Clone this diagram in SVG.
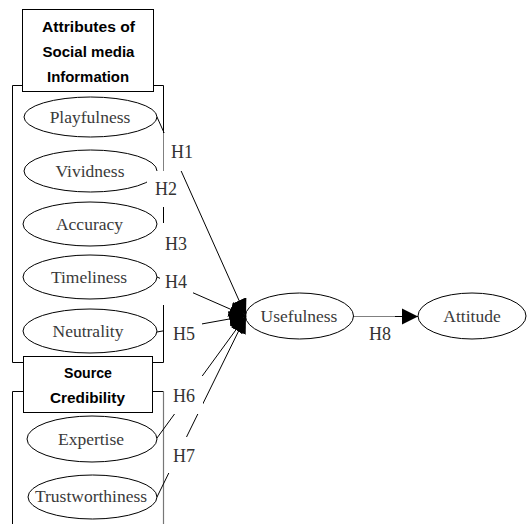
<svg xmlns="http://www.w3.org/2000/svg" width="527" height="524" viewBox="0 0 527 524">
<style>
.br{fill:none;stroke:#000;stroke-width:1}
.br2{fill:none;stroke:#777;stroke-width:1.2}
.box{fill:#fff;stroke:#000;stroke-width:1}
.el{fill:#fff;stroke:#000;stroke-width:1}
.et{font-family:"Liberation Serif",serif;font-size:17.5px;fill:#3a3a3a;text-anchor:middle}
.hd{font-family:"Liberation Sans",Arial,sans-serif;font-size:15px;font-weight:bold;fill:#000;text-anchor:middle}
.hl{font-family:"Liberation Serif",serif;font-size:18px;fill:#333}
.bg{fill:#fff;stroke:none}
.cn{fill:none;stroke:#000;stroke-width:1}
</style>
<defs>
<marker id="ah" markerUnits="userSpaceOnUse" markerWidth="17" markerHeight="16" refX="17" refY="8" orient="auto">
<path d="M0,0 L17,8 L0,16 z" fill="#000"/>
</marker>
<marker id="ah2" markerUnits="userSpaceOnUse" markerWidth="16" markerHeight="18" refX="16" refY="9" orient="auto">
<path d="M0,1 L16,9 L0,17 z" fill="#000"/>
</marker>
</defs>
<g id="brackets">
<path class="br" d="M22.5,85.5 H12.5 V362.5 H23.5"/>
<path class="br" d="M153.5,85.5 H163.5 V362.5 H152.5"/>
<path class="br" d="M23.5,391.5 H12.5 V524"/>
<path class="br" d="M152.5,391.5 H163.5"/>
<path class="br2" d="M163.5,391.5 V524"/>
</g>
<g id="n-playfulness"><ellipse class="el" cx="90.5" cy="117" rx="66.5" ry="20"/><text class="et" x="90" y="122.5">Playfulness</text></g>
<g id="n-vividness"><ellipse class="el" cx="90.5" cy="171" rx="66.5" ry="21"/><text class="et" x="90" y="177">Vividness</text></g>
<g id="n-accuracy"><ellipse class="el" cx="90" cy="224" rx="67" ry="22"/><text class="et" x="89.5" y="229.5">Accuracy</text></g>
<g id="n-timeliness"><ellipse class="el" cx="90" cy="277" rx="67" ry="22"/><text class="et" x="89" y="282.5">Timeliness</text></g>
<g id="n-neutrality"><ellipse class="el" cx="90" cy="331" rx="67" ry="22"/><text class="et" x="88" y="336.5">Neutrality</text></g>
<g id="n-expertise"><ellipse class="el" cx="92" cy="439" rx="65" ry="23"/><text class="et" x="91" y="444.5">Expertise</text></g>
<g id="n-trustworthiness"><ellipse class="el" cx="92.5" cy="497" rx="64.5" ry="22"/><text class="et" x="91" y="502">Trustworthiness</text></g>
<g id="n-usefulness"><ellipse class="el" cx="299.5" cy="316" rx="54" ry="23"/><text class="et" x="299" y="322">Usefulness</text></g>
<g id="n-attitude"><ellipse class="el" cx="472" cy="316" rx="54" ry="23"/><text class="et" x="472" y="322">Attitude</text></g>
<g id="connectors">
<path class="cn" d="M157,117 L246,316" marker-end="url(#ah)"/>
<path class="cn" d="M157,277 L246,316" marker-end="url(#ah)"/>
<path class="cn" d="M157,332 L246,316" marker-end="url(#ah)"/>
<path class="cn" d="M157,438 L246,316" marker-end="url(#ah)"/>
<path class="cn" d="M157,497 L246,316" marker-end="url(#ah)"/>
<path class="cn" d="M353.5,316.5 L418,316.5" marker-end="url(#ah2)"/>
</g>
<g id="labels">
<rect class="bg" x="163.5" y="133" width="37" height="38"/><text class="hl" x="171" y="158">H1</text>
<rect class="bg" x="147" y="171" width="32" height="36"/><text class="hl" x="155" y="195">H2</text>
<rect class="bg" x="160" y="223" width="36" height="37"/><text class="hl" x="165" y="250">H3</text>
<rect class="bg" x="160" y="260" width="33" height="45"/><text class="hl" x="165" y="288">H4</text>
<rect class="bg" x="164" y="316" width="38" height="30"/><text class="hl" x="173" y="340">H5</text>
<rect class="bg" x="172" y="376" width="31" height="38"/><text class="hl" x="173" y="402">H6</text>
<rect class="bg" x="166" y="437" width="34" height="36"/><text class="hl" x="173" y="462">H7</text>
<rect class="bg" x="354" y="316.5" width="41" height="28.5"/><text class="hl" x="369" y="340">H8</text>
</g>
<g id="n-attributes">
<rect class="box" x="22.5" y="9.5" width="131" height="82"/>
<text class="hd" x="88.5" y="32" textLength="93" lengthAdjust="spacingAndGlyphs">Attributes of</text>
<text class="hd" x="88.5" y="57" textLength="92" lengthAdjust="spacingAndGlyphs">Social media</text>
<text class="hd" x="88" y="82" textLength="82" lengthAdjust="spacingAndGlyphs">Information</text>
</g>
<g id="n-source">
<rect class="box" x="23.5" y="356.5" width="129" height="56"/>
<text class="hd" x="88" y="378" textLength="48" lengthAdjust="spacingAndGlyphs">Source</text>
<text class="hd" x="87.5" y="403" textLength="75" lengthAdjust="spacingAndGlyphs">Credibility</text>
</g>
</svg>
